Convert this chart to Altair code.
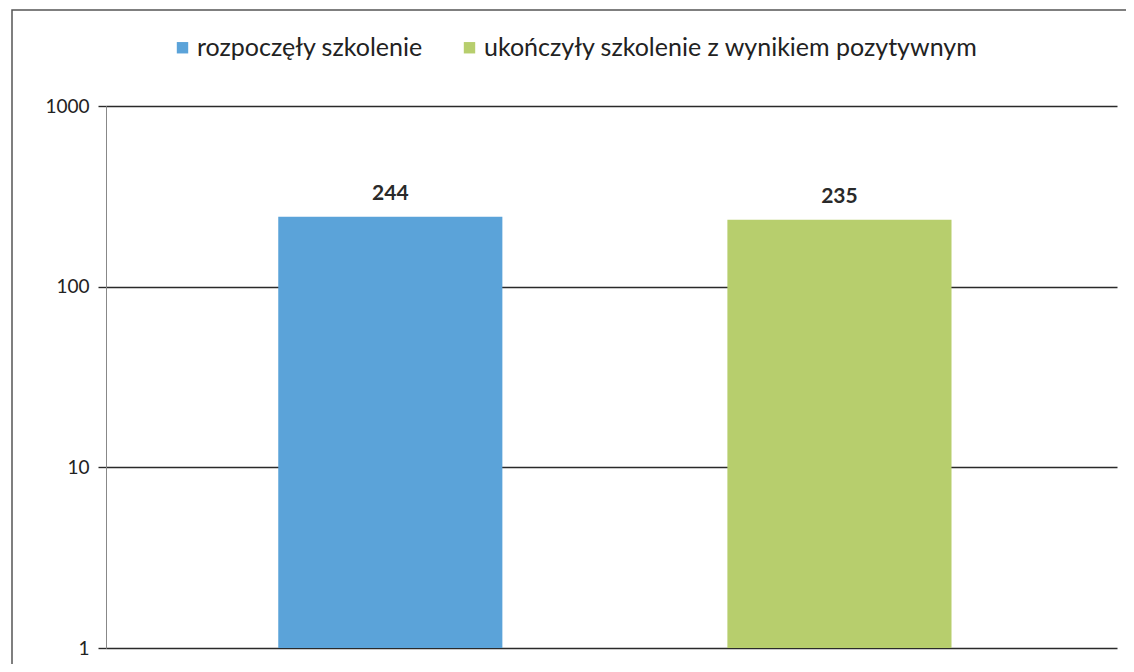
import altair as alt
import pandas as pd

categories = ["rozpoczęły szkolenie", "ukończyły szkolenie z wynikiem pozytywnym"]
values = [244, 235]
colors = ["#5ba3d9", "#b7ce6d"]
y_ticks = [1, 10, 100, 1000]

df = pd.DataFrame({"cat": categories, "val": values})
FONT = "Lato"

color = alt.Color(
    "cat:N",
    scale=alt.Scale(domain=categories, range=colors),
    legend=alt.Legend(
        title=None, orient="none", legendX=64, legendY=-71, direction="horizontal",
        symbolType="square", symbolSize=130, symbolStrokeWidth=0,
        labelFontSize=25, labelFont=FONT, labelColor="#222", columnPadding=34,
        labelOffset=2, labelLimit=700,
    ),
)

x = alt.X("cat:N", sort=categories, axis=None,
          scale=alt.Scale(paddingInner=0.501, paddingOuter=0.376, align=0.51))
y = alt.Y("val:Q", scale=alt.Scale(type="log", domain=[1, 1000]),
          axis=alt.Axis(title=None, values=y_ticks, format="d", grid=True,
                        gridColor="#2a2a2a", gridWidth=1.4, tickColor="#2a2a2a",
                        tickWidth=1.4, tickSize=8, domainColor="#888", domainWidth=1,
                        labelFontSize=19, labelFont=FONT, labelColor="#222",
                        labelPadding=9))

bars = alt.Chart(df).mark_bar().encode(x=x, y=y, y2=alt.datum(1), color=color)
labels = alt.Chart(df).mark_text(baseline="bottom", dy=-13, fontSize=21,
                                 fontWeight="bold", font=FONT, color="#2a2a2a").encode(
    x=x, y=y, text=alt.Text("val:Q"))

border = alt.Chart(pd.DataFrame({"a": [0]})).mark_rect(
    fill=None, stroke="#555", strokeWidth=1.5).encode(
    x=alt.value(-94), x2=alt.value(1050), y=alt.value(-96), y2=alt.value(600))

chart = alt.layer(border, bars, labels).properties(
    width=1011, height=542,
    autosize=alt.AutoSizeParams(type="none"),
    padding={"left": 98, "top": 98, "right": 9, "bottom": 16},
).configure_view(stroke=None)

chart.save("out.html", embed_options={"renderer": "svg", "actions": False})
